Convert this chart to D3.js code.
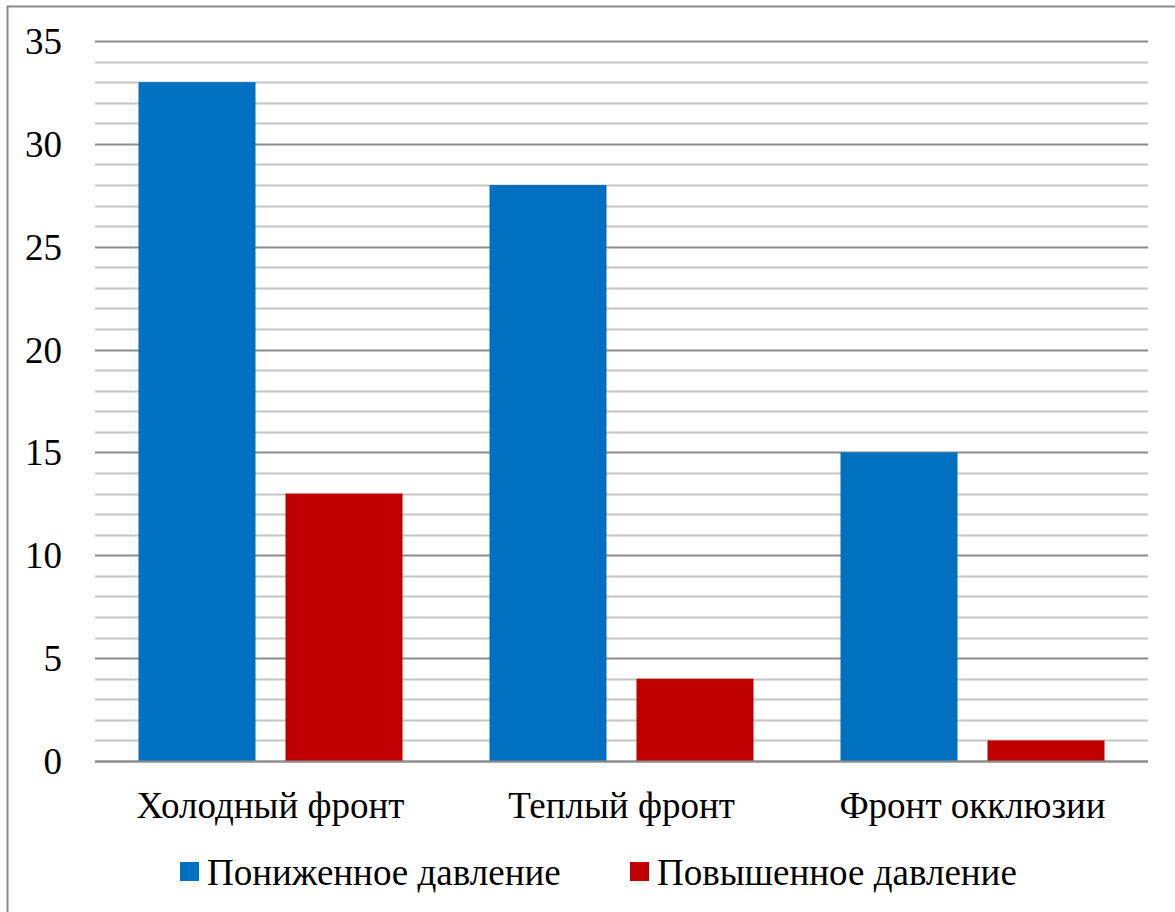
<!DOCTYPE html>
<html>
<head>
<meta charset="utf-8">
<script src="https://cdn.jsdelivr.net/npm/d3@7/dist/d3.min.js"></script>
<style>
  html, body { margin: 0; padding: 0; background: #fff; }
  svg { display: block; }
</style>
</head>
<body>
<svg id="chart" width="1175" height="912"></svg>
<script>
// Chart data
const categories = ["Холодный фронт", "Теплый фронт", "Фронт окклюзии"];
const seriesNames = ["Пониженное давление", "Повышенное давление"];
const lowPressure = [33, 28, 15];
const highPressure = [13, 4, 1];
const yTicks = [0, 5, 10, 15, 20, 25, 30, 35];
const seriesColors = ["#0070C0", "#C00000"];

const svg = d3.select("#chart");
const W = 1175, H = 912;
const fontSize = 37;
const fontFamily = "'Liberation Serif', 'Times New Roman', Times, serif";

// Outer frame
svg.append("rect")
  .attr("x", 7.5).attr("y", 6.5)
  .attr("width", W + 10).attr("height", H + 10)
  .attr("fill", "#fff").attr("stroke", "#8a8a8a").attr("stroke-width", 2);

const plot = { left: 95, right: 1148, top: 41, bottom: 761 };

const x0 = d3.scaleBand()
  .domain(categories)
  .range([plot.left, plot.right])
  .paddingInner(0).paddingOuter(0);

const y = d3.scaleLinear().domain([0, 35]).range([plot.bottom, plot.top]);

// Minor gridlines every unit
const minor = d3.range(1, 35).filter(v => v % 5 !== 0);
svg.append("g").selectAll("line").data(minor).join("line")
  .attr("x1", plot.left).attr("x2", plot.right)
  .attr("y1", d => Math.round(y(d)) + 0.5).attr("y2", d => Math.round(y(d)) + 0.5)
  .attr("stroke", "#c4c4c4").attr("stroke-width", 2);

// Major gridlines
svg.append("g").selectAll("line").data(yTicks).join("line")
  .attr("x1", plot.left).attr("x2", plot.right)
  .attr("y1", d => Math.round(y(d)) + 0.5).attr("y2", d => Math.round(y(d)) + 0.5)
  .attr("stroke", "#8c8c8c").attr("stroke-width", 2);

// Bars
const barW = 117, gap = 30;
const series = [lowPressure, highPressure];
series.forEach((vals, si) => {
  svg.append("g").selectAll("rect").data(vals).join("rect")
    .attr("x", (d, i) => {
      const c = x0(categories[i]) + x0.bandwidth() / 2;
      return si === 0 ? c - gap / 2 - barW : c + gap / 2;
    })
    .attr("y", d => y(d))
    .attr("width", barW)
    .attr("height", d => y(0) - y(d))
    .attr("fill", seriesColors[si]);
});

// Baseline redraw on top
svg.append("line")
  .attr("x1", plot.left).attr("x2", plot.right)
  .attr("y1", Math.round(y(0)) + 0.5).attr("y2", Math.round(y(0)) + 0.5)
  .attr("stroke", "#8c8c8c").attr("stroke-width", 2);

// Y axis labels
svg.append("g").selectAll("text").data(yTicks).join("text")
  .attr("x", 62)
  .attr("y", d => y(d) + 13)
  .attr("text-anchor", "end")
  .attr("font-family", fontFamily)
  .attr("font-size", fontSize)
  .attr("fill", "#000")
  .text(d => d);

// Category labels
svg.append("g").selectAll("text").data(categories).join("text")
  .attr("x", d => x0(d) + x0.bandwidth() / 2)
  .attr("y", 818)
  .attr("text-anchor", "middle")
  .attr("font-family", fontFamily)
  .attr("font-size", fontSize)
  .attr("fill", "#000")
  .text(d => d);

// Legend
const legendItems = [
  { name: seriesNames[0], color: seriesColors[0], x: 180 },
  { name: seriesNames[1], color: seriesColors[1], x: 630 }
];
const lg = svg.append("g").selectAll("g").data(legendItems).join("g");
lg.append("rect")
  .attr("x", d => d.x).attr("y", 862)
  .attr("width", 19).attr("height", 19)
  .attr("fill", d => d.color);
lg.append("text")
  .attr("x", d => d.x + 27).attr("y", 885)
  .attr("font-family", fontFamily)
  .attr("font-size", fontSize)
  .attr("fill", "#000")
  .text(d => d.name);
</script>
</body>
</html>
